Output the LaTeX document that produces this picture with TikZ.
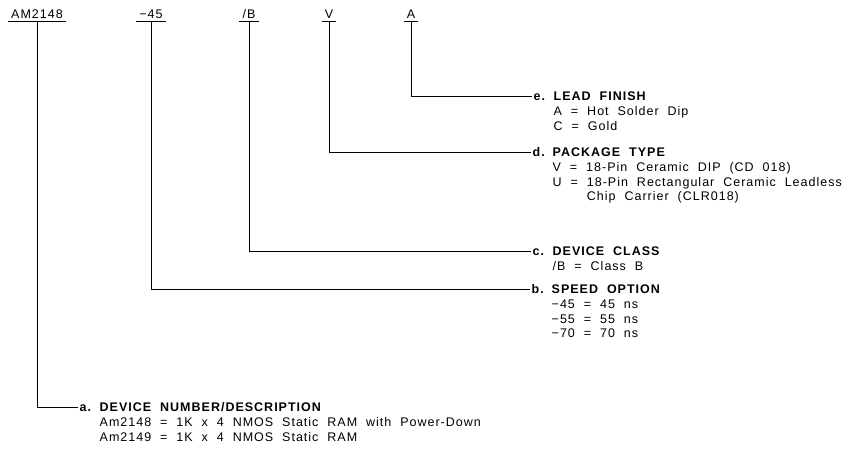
\documentclass[tikz,border=0pt]{standalone}
\usepackage{fontspec}
\setmainfont{Liberation Sans}[LetterSpace=8,WordSpace=2]
\usetikzlibrary{positioning}
\newcommand{\partlbl}[1]{\makebox[20pt][l]{#1}}
\tikzset{
  code/.style={anchor=base,inner sep=0pt,font=\fontsize{12.5}{14.5}\selectfont},
  head/.style={anchor=west,inner sep=1.5pt,text height=9pt,text depth=0pt,
    font=\fontsize{12.5}{14.5}\selectfont\bfseries},
  desc/.style={anchor=base west,inner sep=0pt,align=left,
    font=\fontsize{12.5}{14.5}\selectfont},
  lead/.style={line width=0.7pt}
}
\begin{document}
\begin{tikzpicture}[x=1pt,y=-1pt]
\useasboundingbox (0,0) rectangle (853,450);
% fields of the part number
\node[code] (am) at (37,18) {AM2148};
\node[code] (sp) at (151,18) {−45};
\node[code] (cl) at (249,18) {/B};
\node[code] (pk) at (329,18) {V};
\node[code] (ld) at (411,18) {A};
\foreach \n in {am,sp,cl,pk,ld}
  \draw[lead] ([xshift=-3pt,yshift=-3pt]\n.base west) -- ([xshift=3pt,yshift=-3pt]\n.base east);
% headings
\node[head] (fin) at (532,96) {\partlbl{e.}LEAD FINISH};
\node[head] (pkg) at (531,152) {\partlbl{d.}PACKAGE TYPE};
\node[head] (cls) at (531,251) {\partlbl{c.}DEVICE CLASS};
\node[head] (spd) at (530,289) {\partlbl{b.}SPEED OPTION};
\node[head] (dev) at (78,407) {\partlbl{a.}DEVICE NUMBER/DESCRIPTION};
% descriptions (base = last line)
\node[desc] (fintxt) at ([xshift=21.5pt,yshift=-29.5pt]fin.base west) {A = Hot Solder Dip\\C = Gold};
\node[desc] (pkgtxt) at ([xshift=21.5pt,yshift=-44pt]pkg.base west)
  {V = 18-Pin Ceramic DIP (CD 018)\\U = 18-Pin Rectangular Ceramic Leadless\\\phantom{U = }Chip Carrier (CLR018)};
\node[desc] (clstxt) at ([xshift=21.5pt,yshift=-15pt]cls.base west) {/B = Class B};
\node[desc] (spdtxt) at ([xshift=21.5pt,yshift=-44pt]spd.base west) {−45 = 45 ns\\−55 = 55 ns\\−70 = 70 ns};
\node[desc] (devtxt) at ([xshift=21.5pt,yshift=-29.5pt]dev.base west)
  {Am2148 = 1K x 4 NMOS Static RAM with Power-Down\\Am2149 = 1K x 4 NMOS Static RAM};
% leader lines
\draw[lead] ([yshift=-3pt]ld.base) |- (fin.west);
\draw[lead] ([yshift=-3pt]pk.base) |- (pkg.west);
\draw[lead] ([yshift=-3pt]cl.base) |- (cls.west);
\draw[lead] ([yshift=-3pt]sp.base) |- (spd.west);
\draw[lead] ([yshift=-3pt]am.base) |- (dev.west);
\end{tikzpicture}
\end{document}
